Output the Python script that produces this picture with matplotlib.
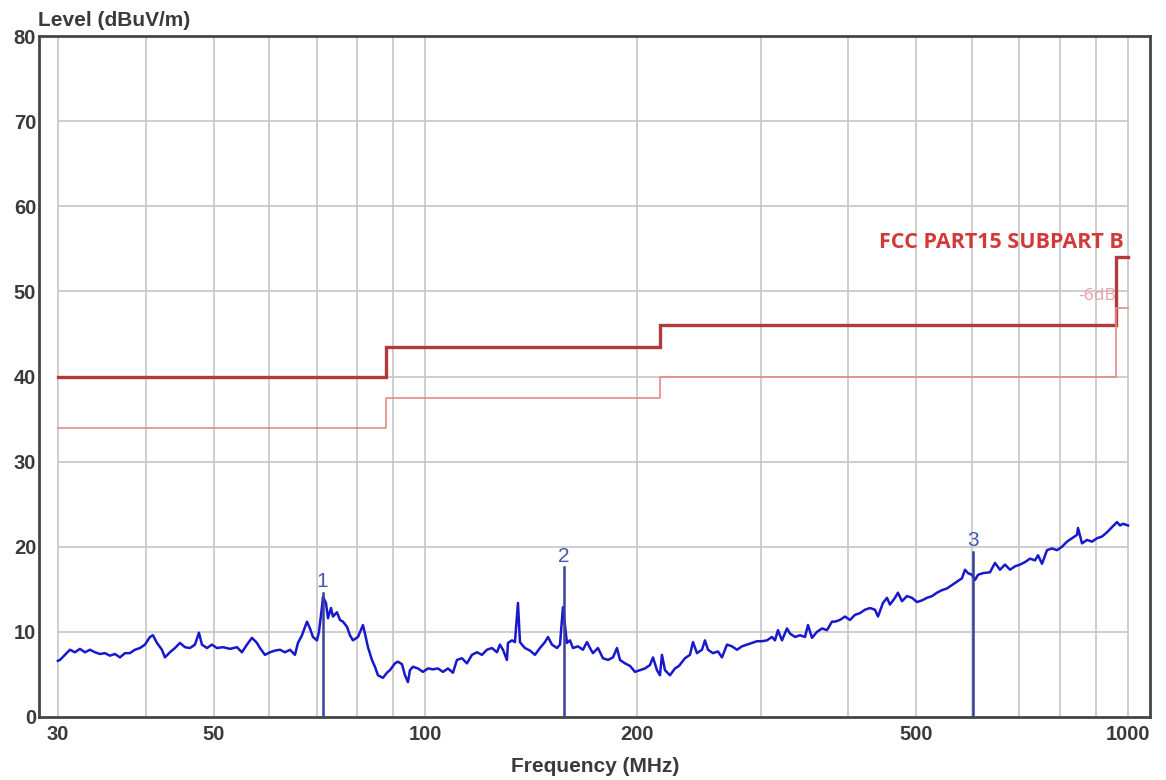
import matplotlib
matplotlib.use("Agg")
import matplotlib.pyplot as plt
from matplotlib.ticker import FixedLocator, NullLocator

# ---------------- data ----------------
trace_freq = [
    30.0, 30.20, 30.70, 31.20, 31.72, 32.24, 32.78, 33.32, 33.87, 34.43, 35.00, 35.57, 36.16, 36.76,
    37.37, 37.98, 38.61, 39.25, 39.90, 40.56, 40.96, 41.50, 42.18, 42.60, 43.30, 44.02, 44.75, 45.49,
    46.24, 47.00, 47.62, 48.09, 48.89, 49.69, 50.52, 51.52, 52.71, 53.94, 54.83, 55.73, 56.66, 57.59,
    58.16, 59.12, 60.10, 61.09, 62.10, 63.13, 64.17, 65.23, 65.87, 66.74, 67.85, 68.52, 69.19, 70.11,
    70.57, 71.26, 71.50, 72.20, 72.68, 73.40, 73.88, 74.85, 75.59, 76.34, 77.35, 78.11, 78.88, 80.19,
    81.51, 82.05, 82.86, 83.95, 84.78, 85.62, 87.03, 88.18, 89.05, 90.52, 91.42, 92.62, 93.54, 94.46,
    95.08, 96.02, 97.61, 99.22, 100.86, 102.52, 104.22, 105.94, 107.69, 109.46, 110.91, 112.74, 114.60,
    116.50, 118.42, 120.38, 122.37, 124.39, 126.44, 127.69, 128.96, 130.66, 131.09, 132.82, 134.13,
    135.46, 136.35, 137.24, 138.60, 140.89, 143.22, 145.58, 147.99, 149.45, 151.42, 153.93, 155.45,
    156.98, 159.05, 160.62, 162.21, 164.89, 167.62, 169.82, 171.50, 173.20, 176.06, 178.97, 181.93,
    184.94, 187.38, 189.23, 192.36, 195.54, 198.77, 202.04, 205.38, 208.77, 210.84, 213.62, 215.73,
    217.14, 219.29, 222.91, 226.60, 229.59, 234.15, 238.01, 240.36, 243.53, 247.56, 250.01, 252.48,
    256.65, 260.89, 264.33, 268.70, 273.14, 277.65, 282.24, 286.90, 291.64, 296.46, 301.35, 306.33,
    311.39, 314.47, 317.57, 321.77, 327.08, 330.31, 335.77, 341.32, 346.96, 350.38, 355.01, 360.87,
    366.84, 372.90, 379.06, 382.80, 389.12, 395.55, 402.08, 408.73, 415.48, 422.35, 429.33, 436.42,
    440.73, 448.01, 453.92, 458.41, 465.98, 470.58, 476.79, 484.67, 492.68, 500.82, 509.10, 517.50,
    526.05, 534.75, 543.57, 552.55, 561.68, 570.96, 580.39, 586.13, 591.92, 599.72, 605.65, 611.63,
    621.74, 636.17, 646.68, 657.37, 668.24, 679.28, 690.51, 701.92, 713.52, 725.31, 737.30, 744.57,
    754.40, 766.87, 779.55, 792.43, 805.53, 818.80, 832.33, 846.09, 848.87, 860.06, 874.27, 888.72,
    903.41, 918.32, 933.49, 948.92, 964.59, 974.13, 983.75, 1000.0,
]
trace_level = [
    6.6, 6.7, 7.3, 7.9, 7.6, 8.0, 7.6, 7.9, 7.6, 7.4, 7.5, 7.2, 7.4, 7.0,
    7.5, 7.5, 7.9, 8.1, 8.5, 9.4, 9.6, 8.7, 7.9, 7.0, 7.6, 8.1, 8.7, 8.2,
    8.1, 8.5, 9.9, 8.5, 8.1, 8.5, 8.1, 8.2, 8.0, 8.2, 7.6, 8.5, 9.3, 8.7,
    8.1, 7.3, 7.6, 7.8, 7.9, 7.6, 7.9, 7.3, 8.7, 9.6, 11.2, 10.4, 9.4, 9.0,
    10.0, 12.9, 14.1, 13.4, 11.6, 12.8, 11.8, 12.3, 11.4, 11.2, 10.6, 9.6, 9.0, 9.4,
    10.8, 9.8, 8.2, 6.7, 5.9, 4.9, 4.6, 5.2, 5.5, 6.3, 6.5, 6.2, 4.9, 4.1,
    5.5, 5.9, 5.7, 5.3, 5.7, 5.6, 5.7, 5.3, 5.7, 5.2, 6.7, 6.9, 6.3,
    7.3, 7.6, 7.3, 7.9, 8.1, 7.6, 8.5, 7.9, 6.7, 8.7, 9.0, 8.8,
    13.4, 8.8, 8.5, 8.1, 7.8, 7.3, 8.1, 8.8, 9.4, 8.5, 8.1, 8.5,
    12.9, 8.7, 9.0, 8.1, 8.3, 7.9, 8.8, 8.1, 7.5, 8.1, 6.9, 6.7,
    7.0, 8.1, 6.7, 6.3, 6.0, 5.3, 5.5, 5.7, 6.1, 7.0, 5.5, 4.9,
    7.3, 5.5, 4.9, 5.7, 6.0, 6.9, 7.3, 8.8, 7.5, 7.9, 9.0, 7.9,
    7.5, 7.7, 7.0, 8.5, 8.3, 7.9, 8.3, 8.5, 8.7, 8.9, 8.9, 9.0,
    9.4, 9.0, 10.2, 9.0, 10.4, 9.8, 9.4, 9.6, 9.4, 10.8, 9.3, 10.0,
    10.4, 10.2, 11.2, 11.2, 11.4, 11.8, 11.4, 12.0, 12.2, 12.6, 12.8, 12.6,
    11.8, 13.4, 14.0, 13.2, 14.0, 14.6, 13.6, 14.2, 14.0, 13.5, 13.7, 14.0,
    14.2, 14.6, 14.9, 15.1, 15.5, 15.9, 16.3, 17.3, 16.9, 16.7, 16.1, 16.7,
    16.9, 17.0, 18.1, 17.3, 17.9, 17.3, 17.7, 17.9, 18.2, 18.6, 18.4, 19.0,
    18.0, 19.6, 19.8, 19.6, 20.0, 20.6, 21.0, 21.4, 22.2, 20.4, 20.8, 20.6,
    21.0, 21.2, 21.7, 22.3, 22.9, 22.5, 22.7, 22.5,
]

# FCC Part 15 Class B limit (step edges) and the -6 dB margin line
limit_edges = [30, 88, 216, 960, 1000]
limit_level = [40.0, 43.5, 46.0, 54.0]
margin_db = 6.0

# peak markers
marker_ids = ["1", "2", "3"]
marker_freq = [71.4, 157.5, 601.9]
marker_level = [14.6, 17.6, 19.4]

x_grid = [30, 40, 50, 60, 70, 80, 90, 100, 200, 300, 400, 500, 600, 700, 800, 900, 1000]
y_grid = [10, 20, 30, 40, 50, 60, 70]
x_ticks = [30, 50, 100, 200, 500, 1000]
y_ticks = [0, 10, 20, 30, 40, 50, 60, 70, 80]

# ---------------- figure ----------------
plt.rcParams['font.family'] = ['Liberation Sans', 'DejaVu Sans']
fig = plt.figure(figsize=(11.66, 7.80), dpi=100)
ax = fig.add_axes([0.0334, 0.0808, 0.9529, 0.8730])
ax.set_xscale('log')
ax.set_xlim(28.19, 1074.8)
ax.set_ylim(0, 80)

grid_col = '#c6c6c6'
ax.vlines(x_grid, 0, 80, colors=grid_col, linewidth=1.2, zorder=1)
ax.hlines(y_grid, x_grid[0], x_grid[-1], colors=grid_col, linewidth=1.2, zorder=1)

# limit lines (stairs)
def stairs(edges, levels, offset=0.0):
    xs, ys = [], []
    for i, lv in enumerate(levels):
        xs += [edges[i], edges[i + 1]]
        ys += [lv - offset, lv - offset]
    return xs, ys

lx, ly = stairs(limit_edges, limit_level)
ax.plot(lx, ly, color='#b23a3a', linewidth=2.4, zorder=3, solid_joinstyle='miter')
mx, my = stairs(limit_edges, limit_level, margin_db)
ax.plot(mx, my, color='#e58a8a', linewidth=1.2, zorder=3)

ax.text(985, 55.7, 'FCC PART15 SUBPART B', color='#d23a3a', fontsize=15.5,
        fontweight='bold', family=['Open Sans', 'DejaVu Sans'],
        ha='right', va='center', zorder=5)
ax.text(962, 49.4, '-6dB', color='#eaa0a0', fontsize=12.5,
        family=['Open Sans', 'DejaVu Sans'], ha='right', va='center', zorder=5)

# trace
ax.plot(trace_freq, trace_level, color='#1818cc', linewidth=1.8, zorder=4)

# markers
for mid, f, lv in zip(marker_ids, marker_freq, marker_level):
    ax.plot([f, f], [0, lv], color='#3a3f9a', linewidth=1.8, zorder=5)
    ax.annotate(mid, (f, lv), xytext=(0, 1), textcoords='offset points',
                ha='center', va='bottom', color='#4a55b0', fontsize=15, zorder=6)

# axes styling
for s in ax.spines.values():
    s.set_color('#454545')
    s.set_linewidth(2.0)
ax.xaxis.set_major_locator(FixedLocator(x_ticks))
ax.xaxis.set_minor_locator(NullLocator())
ax.set_xticklabels([str(t) for t in x_ticks])
ax.yaxis.set_major_locator(FixedLocator(y_ticks))
ax.tick_params(axis='both', length=0, labelsize=14.5, labelcolor='#3a3a3a')
ax.tick_params(axis='x', pad=6)
ax.tick_params(axis='y', pad=2)
for lab in ax.get_xticklabels() + ax.get_yticklabels():
    lab.set_fontweight('bold')

fig.text(38 / 1166, 1 - 21 / 780, 'Level (dBuV/m)', fontsize=15, fontweight='bold',
         color='#3a3a3a', ha='left', va='center')
fig.text(595 / 1166, 1 - 766 / 780, 'Frequency (MHz)', fontsize=15, fontweight='bold',
         color='#3a3a3a', ha='center', va='center')

fig.savefig('out.png', dpi=100, facecolor='white')
